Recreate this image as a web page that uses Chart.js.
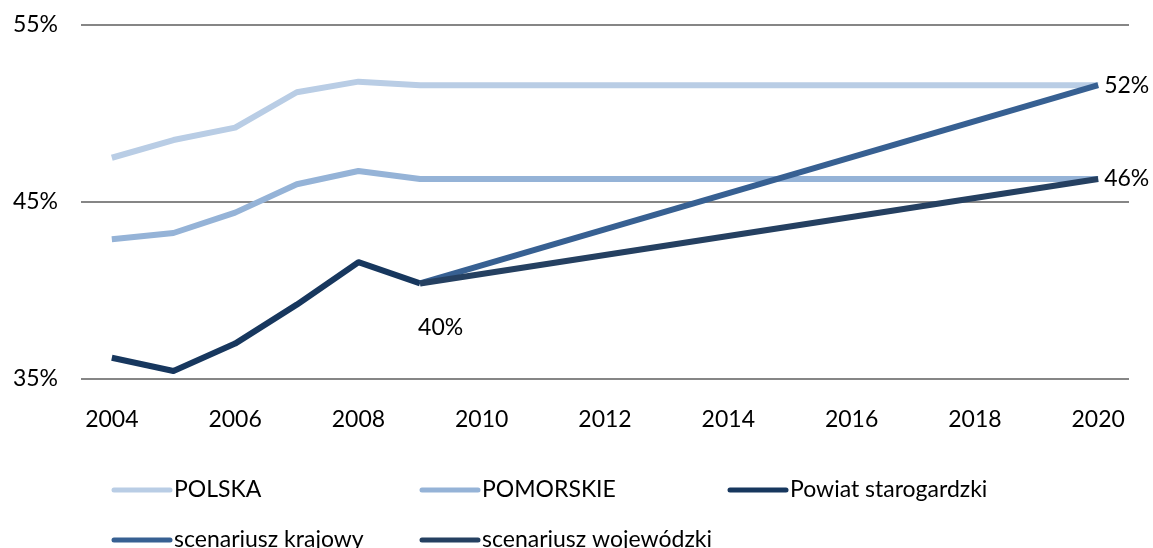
<!DOCTYPE html>
<html>
<head>
<meta charset="utf-8">
<script src="https://cdn.jsdelivr.net/npm/chart.js@4"></script>
<style>
    html, body { margin: 0; padding: 0; background: #fff; }
    #wrap { width: 1153px; height: 548px; position: relative; }
</style>
</head>
<body>
<div id="wrap"><canvas id="grafico"></canvas></div>
<script>
const histYears = [2004, 2005, 2006, 2007, 2008, 2009, 2020];
const polska = [47.5, 48.5, 49.2, 51.2, 51.8, 51.6, 51.6];
const pomorskie = [42.9, 43.25, 44.4, 46.0, 46.75, 46.3, 46.3];
const powiatYears = [2004, 2005, 2006, 2007, 2008, 2009];
const powiat = [36.2, 35.45, 37.0, 39.2, 41.6, 40.4];
const scenYears = [2009, 2020];
const krajowy = [40.4, 51.6];
const wojewodzki = [40.4, 46.3];
const xTicks = [2004, 2006, 2008, 2010, 2012, 2014, 2016, 2018, 2020];
const yTicks = [35, 45, 55];
const nazwy = ['POLSKA', 'POMORSKIE', 'Powiat starogardzki', 'scenariusz krajowy', 'scenariusz wojewódzki'];
const kolory = ['#b9cde5', '#95b3d7', '#17375e', '#376092', '#254061'];
// etykiety: [dataset, rok, tekst, dx, dy]
const etykiety = [
    [3, 2020, '52%', 6, 0],
    [4, 2020, '46%', 6, 0],
    [2, 2009, '40%', -2, 44]
];

const FONT = 'Lato, "Open Sans", sans-serif';

function punkty(xs, ys) {
    return xs.map((x, i) => ({ x: x, y: ys[i] }));
}

const series = [
    punkty(histYears, polska),
    punkty(histYears, pomorskie),
    punkty(powiatYears, powiat),
    punkty(scenYears, krajowy),
    punkty(scenYears, wojewodzki)
];

const legendaPlugin = {
    id: 'legendaEtykiety',
    afterDatasetsDraw(chart) {
        const c = chart.ctx;
        const xs = chart.scales.x, ys = chart.scales.y;
        c.save();
        c.font = '23px ' + FONT;
        c.fillStyle = '#000';
        c.textBaseline = 'middle';
        c.textAlign = 'left';
        etykiety.forEach(([d, rok, tekst, dx, dy]) => {
            const pt = chart.data.datasets[d].data.find(p => p.x === rok);
            c.fillText(tekst, xs.getPixelForValue(rok) + dx, ys.getPixelForValue(pt.y) + dy);
        });

        // legenda
        const cols = [114, 422, 730];
        const rows = [490, 540];
        c.lineCap = 'round';
        c.lineWidth = 5;
        chart.data.datasets.forEach((ds, i) => {
            const x = cols[i % 3], y = rows[Math.floor(i / 3)];
            c.strokeStyle = ds.borderColor;
            c.beginPath();
            c.moveTo(x, y);
            c.lineTo(x + 56, y);
            c.stroke();
            c.fillText(ds.label, x + 60, y);
        });
        c.restore();
    }
};

const ctx = document.getElementById('grafico');

new Chart(ctx, {
    type: 'line',
    data: {
        datasets: series.map((d, i) => ({
            label: nazwy[i],
            data: d,
            borderColor: kolory[i],
            backgroundColor: kolory[i],
            borderWidth: 6,
            pointRadius: 0,
            tension: 0,
            borderJoinStyle: 'round',
            order: 5 - i
        }))
    },
    options: {
        responsive: true,
        maintainAspectRatio: false,
        animation: false,
        layout: { padding: { top: 25, right: 24, bottom: 109, left: 0 } },
        scales: {
            x: {
                type: 'linear',
                min: 2003.5,
                max: 2020.5,
                afterBuildTicks: (s) => { s.ticks = xTicks.map(v => ({ value: v })); },
                afterFit: (s) => { s.height = 60; },
                grid: { display: false },
                border: { display: false },
                ticks: {
                    color: '#000',
                    font: { family: FONT, size: 23 },
                    padding: 19,
                    maxRotation: 0,
                    callback: (v) => String(v)
                }
            },
            y: {
                min: 35,
                max: 55,
                afterBuildTicks: (s) => { s.ticks = yTicks.map(v => ({ value: v })); },
                afterFit: (s) => { s.width = 81; s.paddingTop = 0; s.paddingBottom = 0; },
                grid: { color: '#868686', lineWidth: 2, drawTicks: false },
                border: { display: false },
                ticks: {
                    color: '#000',
                    font: { family: FONT, size: 23 },
                    padding: 23,
                    callback: (v) => v + '%'
                }
            }
        },
        plugins: {
            legend: { display: false },
            tooltip: { enabled: false }
        }
    },
    plugins: [legendaPlugin]
});
</script>
</body>
</html>
